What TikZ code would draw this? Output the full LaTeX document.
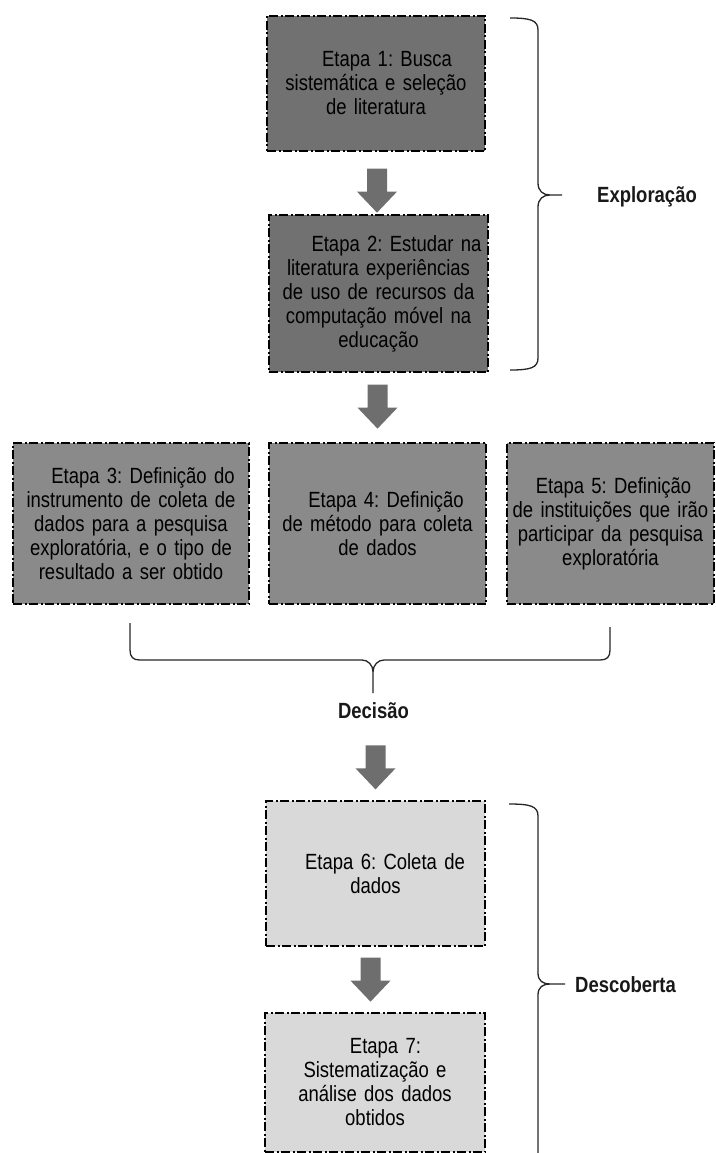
\documentclass[tikz,border=0pt]{standalone}
\usepackage{fontspec}
\setmainfont{Liberation Sans}[FakeStretch=0.84]
\usetikzlibrary{calc}
\frenchspacing

\definecolor{escuro}{HTML}{717171}
\definecolor{medio}{HTML}{8A8A8A}
\definecolor{claro}{HTML}{D9D9D9}
\definecolor{setacinza}{HTML}{6E6E6E}
\definecolor{chavecor}{HTML}{262626}

\tikzset{
  etapa/.style={draw=black, line width=1.3pt, dash pattern=on 9pt off 2.5pt on 2pt off 2.5pt,
    inner sep=0pt, align=center, font=\fontsize{22}{24}\selectfont, text=black},
  chave/.style={draw=chavecor, line width=1.3pt},
  rotulo/.style={font=\fontsize{22}{24}\selectfont\bfseries, text=black!90, inner sep=0pt}
}
\newcommand{\setabloco}[1]{\fill[setacinza] ($(#1)+(-10,0)$) -- ++(20,0) -- ++(0,23) -- ++(10,0) -- ++(-20,21) -- ++(-20,-21) -- ++(10,0) -- cycle;}

\begin{document}
\begin{tikzpicture}[x=1pt,y=-1pt]
\useasboundingbox (0,0) rectangle (715,1153);

\node[etapa, fill=escuro, minimum width=218pt, minimum height=135pt, text width=212pt] (e1) at (376,83.5)
  {\hspace*{22pt}Etapa 1: Busca\\ sistemática e seleção\\ de literatura};
\node[etapa, fill=escuro, minimum width=219pt, minimum height=157pt, text width=213pt] (e2) at (378.5,293.5)
  {\hspace*{36pt}Etapa 2: Estudar na\\ literatura experiências\\ de uso de recursos da\\ computação móvel na\\ educação};
\node[etapa, fill=medio, minimum width=236pt, minimum height=161pt, text width=230pt] (e3) at (131,523.5)
  {\hspace*{24pt}Etapa 3: Definição do\\ instrumento de coleta de\\ dados para a pesquisa\\ exploratória, e o tipo de\\ resultado a ser obtido};
\node[etapa, fill=medio, minimum width=217pt, minimum height=161pt, text width=211pt] (e4) at (377.5,523.5)
  {\hspace*{17pt}Etapa 4: Definição\\ de método para coleta\\ de dados};
\node[etapa, fill=medio, minimum width=207pt, minimum height=161pt, text width=201pt] (e5) at (610.5,523.5)
  {\hspace*{6pt}Etapa 5: Definição\\ de instituições que irão\\ participar da pesquisa\\ exploratória};
\node[etapa, fill=claro, minimum width=219pt, minimum height=145pt, text width=213pt] (e6) at (375.5,873.5)
  {\hspace*{19pt}Etapa 6: Coleta de\\ dados};
\node[etapa, fill=claro, minimum width=220pt, minimum height=139pt, text width=214pt] (e7) at (375,1082.5)
  {\hspace*{21pt}Etapa 7:\\ Sistematização e\\ análise dos dados\\ obtidos};

\node[rotulo, anchor=west] (exp) at (597,197) {Exploração};
\node[rotulo] (dec) at (373.5,711) {Decisão};
\node[rotulo, anchor=west] (desc) at (575,985) {Descoberta};

\coordinate (s1) at ($(e1.south)+(1,17)$);
\coordinate (s2) at ($(e2.south)+(-1,12)$);
\coordinate (s3) at ($(e6.north)+(0,-55)$);
\coordinate (s4) at ($(e6.south)+(-5,11)$);
\setabloco{s1}
\setabloco{s2}
\setabloco{s3}
\setabloco{s4}

\draw[chave] (510,18) .. controls (530,18) and (538,20) .. (538,30) -- (538,183)
  .. controls (538,191) and (543,195) .. (550,195) -- (562,195) -- (550,195)
  .. controls (543,195) and (538,199) .. (538,207) -- (538,358)
  .. controls (538,368) and (530,370) .. (510,370);
\draw[chave] (130,623) -- (130,650) .. controls (130,657) and (133,660) .. (140,660) -- (362,660)
  .. controls (368,660) and (373,665) .. (373,672) -- (373,693) -- (373,672)
  .. controls (373,665) and (378,660) .. (384,660) -- (600,660)
  .. controls (607,660) and (610,657) .. (610,650) -- (610,627);
\draw[chave] (509,804) .. controls (530,804) and (538,806) .. (538,816) -- (538,973)
  .. controls (538,981) and (543,984) .. (550,984) -- (565,984) -- (550,984)
  .. controls (543,984) and (538,987) .. (538,995) -- (538,1153);
\end{tikzpicture}
\end{document}
